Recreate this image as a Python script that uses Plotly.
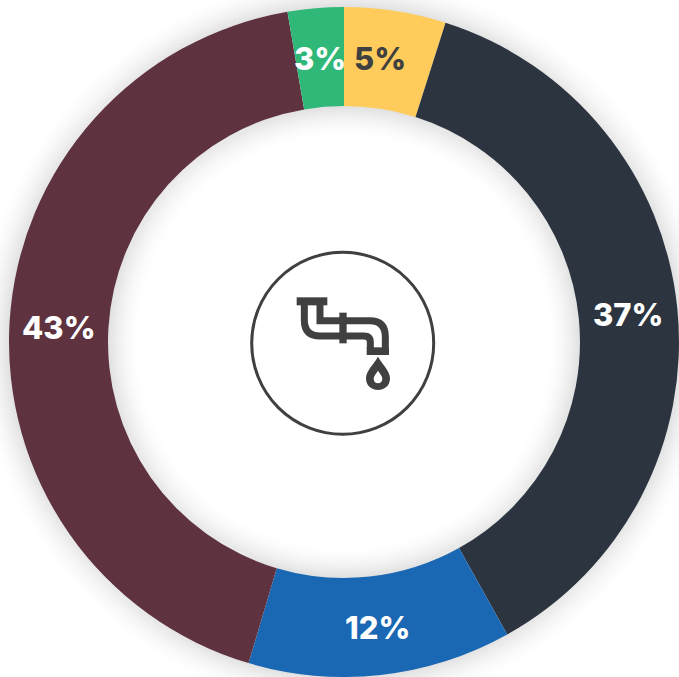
import plotly.graph_objects as go

W, H = 679, 677
labels = ["Yellow", "Dark", "Blue", "Maroon", "Green"]
values = [4.9, 37.0, 12.7, 42.7, 2.7]
value_text = ["5%", "37%", "12%", "43%", "3%"]
colors = ["#FFCC5C", "#2C353F", "#1A67B3", "#5E323F", "#30B878"]
text_colors = ["#404040", "#FFFFFF", "#FFFFFF", "#FFFFFF", "#FFFFFF"]
label_x = [380, 628, 377, 59, 320]
label_y = [59, 314, 627, 327, 59]

CX, CY, R, RI = 344, 342, 335, 236
INK = "#404040"


def px(x):
    return x / W


def py(y):
    return 1 - y / H


def circle(cx, cy, r, **kw):
    return dict(type="circle", xref="paper", yref="paper",
                x0=px(cx - r), x1=px(cx + r), y0=py(cy + r), y1=py(cy - r), **kw)


def zp(points, close=False):
    out = []
    for p in points:
        if isinstance(p, str):
            out.append(p)
        else:
            x, y = 240 + p[0] / 3, 240 + p[1] / 3
            out.append(f"{px(x):.5f} {py(y):.5f}")
    return " ".join(out) + (" Z" if close else "")


shapes = []
for k in range(-3, 36):
    a = 0.125 * (1 - max(k, 0) / 36) ** 2.0
    col = f"rgba(0,0,0,{a:.4f})"
    shapes.append(circle(CX, CY, R + k, line=dict(color=col, width=1.0), fillcolor="rgba(0,0,0,0)", layer="below"))
    shapes.append(circle(CX, CY, RI - k, line=dict(color=col, width=1.0), fillcolor="rgba(0,0,0,0)", layer="below"))

shapes.append(circle(342.7, 343.3, 91, line=dict(color=INK, width=3), fillcolor="#FFFFFF", layer="above"))

stroke = dict(line=dict(color=INK, width=7), fillcolor="rgba(0,0,0,0)", layer="above", type="path",
              xref="paper", yref="paper")
solid = dict(line=dict(color=INK, width=0), fillcolor=INK, layer="above", type="path",
             xref="paper", yref="paper")
hollow = dict(line=dict(width=0), fillcolor="#FFFFFF", layer="above", type="path",
              xref="paper", yref="paper")

shapes.append(dict(path=zp(["M", (170, 172), "L", (262, 172), "L", (262, 196), "L", (170, 196)], True), **solid))
shapes.append(dict(path=zp(["M", (298, 218), "L", (320, 218), "L", (320, 310), "L", (298, 310)], True), **solid))
shapes.append(dict(path=zp(["M", (380, 322), "L", (447, 322), "L", (447, 345), "L", (380, 345)], True), **solid))
shapes.append(dict(path=zp(["M", (193, 190), "L", (193, 240), "Q", (193, 288), (240, 288), "L", (300, 288)]), **stroke))
shapes.append(dict(path=zp(["M", (240, 190), "L", (240, 242), "L", (300, 242)]), **stroke))
shapes.append(dict(path=zp(["M", (318, 242), "L", (390, 242), "Q", (436, 242), (436, 290), "L", (436, 326)]), **stroke))
shapes.append(dict(path=zp(["M", (318, 288), "L", (372, 288), "Q", (391, 288), (391, 306), "L", (391, 326)]), **stroke))
shapes.append(dict(path=zp(["M", (414, 350), "C", (400, 375), (378, 392), (378, 415),
                            "C", (378, 462), (450, 462), (450, 415),
                            "C", (450, 392), (428, 375), (414, 350)], True), **solid))
shapes.append(dict(path=zp(["M", (414, 392), "C", (408, 402), (401, 408), (401, 416),
                            "C", (401, 434), (427, 434), (427, 416),
                            "C", (427, 408), (420, 402), (414, 392)], True), **hollow))

annotations = [
    dict(text=t, x=px(x), y=py(y), xref="paper", yref="paper", xanchor="center", yanchor="middle",
         showarrow=False, font=dict(family="Inter", size=31, weight=800, color=c))
    for t, x, y, c in zip(value_text, label_x, label_y, text_colors)
]

fig = go.Figure(go.Pie(
    labels=labels,
    values=values,
    textinfo="none",
    sort=False,
    direction="clockwise",
    rotation=0,
    hole=RI / R,
    marker=dict(colors=colors, line=dict(width=0)),
    showlegend=False,
    domain=dict(x=[px(CX - R), 1.0], y=[0.0, py(CY - R)]),
))
fig.update_layout(
    width=W, height=H,
    margin=dict(l=0, r=0, t=0, b=0),
    paper_bgcolor="#FFFFFF",
    plot_bgcolor="#FFFFFF",
    shapes=shapes,
    annotations=annotations,
)
fig.write_html("out.html", config=dict(displayModeBar=False),
               post_script="document.body.style.margin='0';document.body.style.overflow='hidden';")
